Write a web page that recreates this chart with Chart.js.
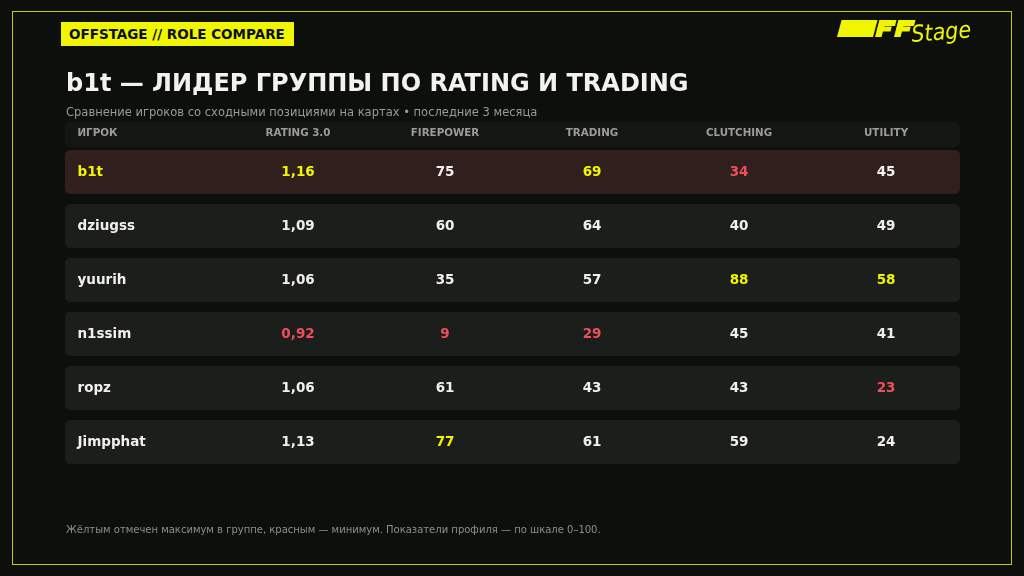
<!DOCTYPE html>
<html>
<head>
<meta charset="utf-8">
<script src="https://cdn.jsdelivr.net/npm/chart.js@4.4.1/dist/chart.umd.min.js"></script>
<style>
  html, body { margin: 0; padding: 0; background: #0d0f0d; }
  body { width: 1024px; height: 576px; position: relative; overflow: hidden; font-family: "DejaVu Sans", sans-serif; }
  #chart { position: absolute; left: 0; top: 0; }
  .frame { position: absolute; left: 12px; top: 11px; width: 998px; height: 552px; border: 1.5px solid #c4c70a; }
  .badge { position: absolute; left: 61px; top: 22px; width: 233px; height: 24px; background: #f0f500;
           color: #0d0f0d; font-weight: bold; font-size: 13.5px; line-height: 24px; padding-left: 8px; box-sizing: border-box; white-space: nowrap; }
  .title { position: absolute; left: 66px; top: 69px; color: #f2f2ee; font-weight: bold; font-size: 24px; white-space: nowrap; }
  .subtitle { position: absolute; left: 66px; top: 105px; color: #9a9a96; font-size: 11.5px; white-space: nowrap; }
  .note { position: absolute; left: 66px; top: 524px; color: #8e8e8a; font-size: 10px; white-space: nowrap; }
</style>
</head>
<body>
<canvas id="chart" width="1024" height="576"></canvas>
<div class="frame"></div>
<div class="badge">OFFSTAGE // ROLE COMPARE</div>
<div class="title">b1t — ЛИДЕР ГРУППЫ ПО RATING И TRADING</div>
<div class="subtitle">Сравнение игроков со сходными позициями на картах • последние 3 месяца</div>
<div class="note">Жёлтым отмечен максимум в группе, красным — минимум. Показатели профиля — по шкале 0–100.</div>
<script>
// table data
const players = ['b1t', 'dziugss', 'yuurih', 'n1ssim', 'ropz', 'Jimpphat'];
const columns = ['ИГРОК', 'RATING 3.0', 'FIREPOWER', 'TRADING', 'CLUTCHING', 'UTILITY'];
const rating = [1.16, 1.09, 1.06, 0.92, 1.06, 1.13];
const firepower = [75, 60, 35, 9, 61, 77];
const trading = [69, 64, 57, 29, 43, 61];
const clutching = [34, 40, 88, 45, 43, 59];
const utility = [45, 49, 58, 41, 23, 24];
const highlight = 'b1t';

const valueCols = [rating, firepower, trading, clutching, utility];
const YELLOW = '#f0f500', RED = '#ef4f5a', WHITE = '#f0f0ec';
const X_MIN = -0.585, X_MAX = 5.503;

function fmt(col, v) {
    return col === 0 ? v.toFixed(2).replace('.', ',') : String(v);
}

function roundRect(ctx, x, y, w, h, r) {
    ctx.beginPath();
    ctx.moveTo(x + r, y);
    ctx.arcTo(x + w, y, x + w, y + h, r);
    ctx.arcTo(x + w, y + h, x, y + h, r);
    ctx.arcTo(x, y + h, x, y, r);
    ctx.arcTo(x, y, x + w, y, r);
    ctx.closePath();
}

// header row + cell texts, positioned from the scales
const tablePlugin = {
    id: 'tableText',
    beforeDatasetsDraw(chart) {
        const { ctx, scales: { x, y } } = chart;
        const pitch = y.getPixelForValue(1) - y.getPixelForValue(0);
        const top = y.getPixelForValue(0) - pitch * 0.926;
        const left = x.getPixelForValue(X_MIN), right = x.getPixelForValue(X_MAX);
        ctx.save();
        ctx.fillStyle = '#141614';
        roundRect(ctx, left, top, right - left, pitch * 0.47, 5);
        ctx.fill();
        ctx.font = 'bold 10.3px "DejaVu Sans"';
        ctx.fillStyle = '#9c9c98';
        ctx.textBaseline = 'middle';
        const hy = top + pitch * 0.21;
        columns.forEach((c, i) => {
            if (i === 0) {
                ctx.textAlign = 'left';
                ctx.fillText(c, x.getPixelForValue(-0.5), hy);
            } else {
                ctx.textAlign = 'center';
                ctx.fillText(c, x.getPixelForValue(i), hy);
            }
        });
        ctx.restore();
    },
    afterDatasetsDraw(chart) {
        const { ctx, scales: { x, y } } = chart;
        ctx.save();
        ctx.font = 'bold 13.5px "DejaVu Sans"';
        ctx.textBaseline = 'middle';
        players.forEach((p, r) => {
            const py = y.getPixelForValue(r);
            ctx.textAlign = 'left';
            ctx.fillStyle = p === highlight ? YELLOW : WHITE;
            ctx.fillText(p, x.getPixelForValue(-0.5), py);
            ctx.textAlign = 'center';
            valueCols.forEach((col, c) => {
                const v = col[r];
                const mx = Math.max(...col), mn = Math.min(...col);
                ctx.fillStyle = v === mx ? YELLOW : (v === mn ? RED : WHITE);
                ctx.fillText(fmt(c, v), x.getPixelForValue(c + 1), py);
            });
        });
        ctx.restore();
    }
};

// brand mark in the top right corner
function blockF(ctx, x0) {
    ctx.fillRect(x0, -17, 6.5, 17);
    ctx.fillRect(x0, -17, 17, 6);
    ctx.fillRect(x0, -10.5, 14, 5);
}

const logoPlugin = {
    id: 'logo',
    afterDraw(chart) {
        const ctx = chart.ctx;
        ctx.save();
        ctx.fillStyle = YELLOW;
        ctx.translate(0, 37);
        ctx.transform(1, 0, -0.27, 1, 0, 0);
        ctx.fillRect(837, -17, 36, 17);
        blockF(ctx, 875);
        blockF(ctx, 894);
        ctx.restore();
        ctx.save();
        ctx.fillStyle = YELLOW;
        ctx.textBaseline = 'alphabetic';
        ctx.textAlign = 'left';
        ctx.font = 'italic 23px "DejaVu Sans Condensed"';
        ctx.translate(912, 42);
        ctx.rotate(-0.08);
        ctx.fillText('Stage', 0, 0);
        ctx.restore();
    }
};

new Chart(document.getElementById('chart'), {
    type: 'bar',
    data: {
        labels: players,
        datasets: [{
            data: players.map(() => [X_MIN, X_MAX]),
            backgroundColor: players.map(p => p === highlight ? '#311f1e' : '#1c1e1b'),
            borderRadius: 5,
            borderSkipped: false,
            barPercentage: 44 / 54,
            categoryPercentage: 1
        }]
    },
    options: {
        indexAxis: 'y',
        responsive: false,
        animation: false,
        layout: { padding: { left: 65, right: 64, top: 145, bottom: 107 } },
        scales: {
            x: { type: 'linear', min: X_MIN, max: X_MAX, display: false },
            y: { display: false }
        },
        plugins: { legend: { display: false }, tooltip: { enabled: false } }
    },
    plugins: [tablePlugin, logoPlugin]
});
</script>
</body>
</html>
